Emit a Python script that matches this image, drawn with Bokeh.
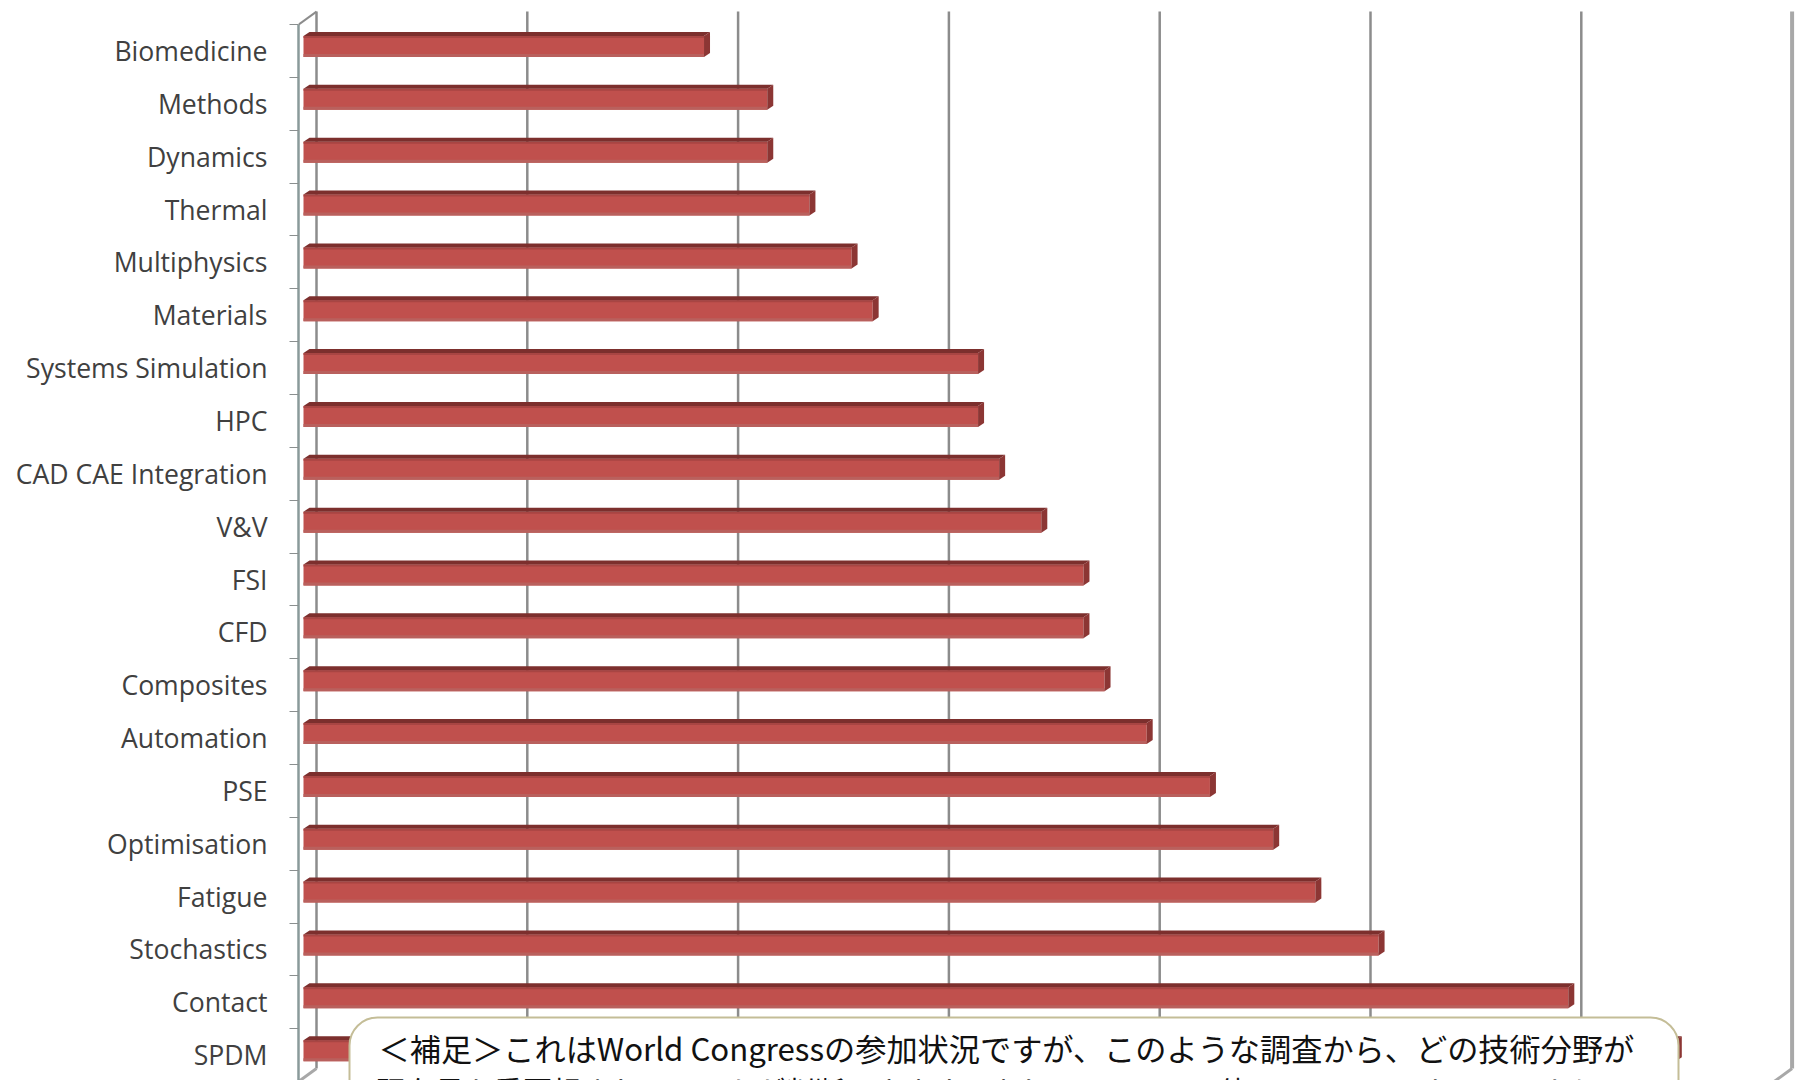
from bokeh.plotting import figure
from bokeh.embed import file_html
from bokeh.resources import INLINE
from bokeh.models import Range1d, FixedTicker
from bokeh.core.properties import value

categories = ["Biomedicine", "Methods", "Dynamics", "Thermal", "Multiphysics", "Materials",
              "Systems Simulation", "HPC", "CAD CAE Integration", "V&V", "FSI", "CFD",
              "Composites", "Automation", "PSE", "Optimisation", "Fatigue", "Stochastics",
              "Contact", "SPDM"]
counts = [19, 22, 22, 24, 26, 27, 32, 32, 33, 35, 37, 37, 38, 40, 43, 46, 48, 51, 60, 65.1]
grid_values = [0, 10, 20, 30, 40, 50, 60]
wall_value = 70
note_lines = ["＜補足＞これはWorld Congressの参加状況ですが、このような調査から、どの技術分野が",
              "現在最も重要視されているかが判断できます。また、NAFEMSの他のイベントでも、このように"]

# page-pixel geometry of the chart
OX, OY = 0, 0
W, H = 1800, 1080
UX, UY = 21.08, 52.85        # px per count, px per category
X0, Y0 = 316, 50.5           # page px of value 0 on the back wall, of row 0 centre
def px_x(v): return (v - X0) / UX
def px_y(v): return (v - Y0) / UY

xr = Range1d(px_x(298), px_x(OX + W))
yr = Range1d(px_y(OY + H), px_y(OY))
p = figure(width=W, height=H, x_range=xr, y_range=yr, output_backend="svg", toolbar_location=None,
           min_border_left=298, min_border_right=0, min_border_top=0, min_border_bottom=0,
           background_fill_color="white", border_fill_color="white", outline_line_color=None)
p.xaxis.visible = False
p.xgrid.visible = False
p.ygrid.visible = False

rows = list(range(len(categories)))
ax = p.yaxis[0]
ax.ticker = FixedTicker(ticks=rows, minor_ticks=[r - 0.5 for r in rows] + [len(rows) - 0.5])
ax.major_label_overrides = {r: c for r, c in zip(rows, categories)}
ax.major_tick_out = 0
ax.major_tick_in = 0
ax.minor_tick_out = 9
ax.minor_tick_in = 0
ax.minor_tick_line_color = "#8a8f8f"
ax.minor_tick_line_width = 1
ax.axis_line_color = "#8a9a9a"
ax.axis_line_width = 2.5
ax.bounds = (-0.5, len(rows) - 0.5)
ax.major_label_standoff = 22
ax.major_label_text_font = "Open Sans"
ax.major_label_text_font_size = "26.6px"
ax.major_label_text_color = "#404040"

# 3D depth of the chart box
depth_x, depth_y = 18 / UX, 13 / UY
top_row, bot_row = -0.5, len(rows) - 0.5
GRID = "#8c8c8c"
p.segment(x0=grid_values, x1=grid_values, y0=[top_row - depth_y] * len(grid_values),
          y1=[bot_row - depth_y] * len(grid_values), line_color=GRID, line_width=2.5)
p.segment(x0=[wall_value], x1=[wall_value], y0=[top_row - depth_y], y1=[bot_row - depth_y],
          line_color="#a8a8a8", line_width=4)
p.segment(x0=[-depth_x], x1=[0], y0=[top_row], y1=[top_row - depth_y], line_color=GRID, line_width=2)
p.segment(x0=[-depth_x, wall_value - depth_x], x1=[0, wall_value],
          y0=[bot_row, bot_row], y1=[bot_row - depth_y, bot_row - depth_y],
          line_color="#a8a8a8", line_width=3)

# bars: front face plus top and side faces
bar_x0 = -13 / UX
d_x, d_y = 6 / UX, 4 / UY
t_back, t_front, b_front = -19 / UY, -15 / UY, 6 / UY
ends = [bar_x0 + c for c in counts]
p.quad(left=[bar_x0] * len(rows), right=ends,
       top=[r + t_front for r in rows], bottom=[r + b_front for r in rows],
       fill_color="#c0504d", line_color=None)
p.quad(left=[bar_x0] * len(rows), right=ends,
       top=[r + t_front for r in rows], bottom=[r + t_front + 2 / UY for r in rows],
       fill_color="#a84543", line_color=None)
p.quad(left=[bar_x0] * len(rows), right=ends,
       top=[r + b_front - 3 / UY for r in rows], bottom=[r + b_front for r in rows],
       fill_color="#b9605d", line_color=None)
p.patches(xs=[[bar_x0, bar_x0 + d_x, e + d_x, e] for e in ends],
          ys=[[r + t_front, r + t_back, r + t_back, r + t_front] for r in rows],
          fill_color="#7c2f2d", line_color=None)
p.patches(xs=[[e, e + d_x, e + d_x, e] for e in ends],
          ys=[[r + t_front, r + t_back, r + b_front - d_y, r + b_front] for r in rows],
          fill_color="#8c3634", line_color=None)

# note box
p.quad(left=[px_x(349)], right=[px_x(1678)], top=[px_y(1017)], bottom=[px_y(1200)],
       fill_color="white", line_color="#c4bd97", line_width=2, border_radius=28)
p.text(x=[px_x(378)], y=[px_y(1047)], text=[note_lines[0]], text_font=value("Noto Sans CJK JP"),
       text_font_size="31.2px", text_baseline="middle", text_align="left", text_color="#111111")
p.text(x=[px_x(376)], y=[px_y(1089)], text=[note_lines[1]], text_font=value("Noto Sans CJK JP"),
       text_font_size="29.3px", text_baseline="middle", text_align="left", text_color="#111111")

open("out.html", "w").write(file_html(p, INLINE))
